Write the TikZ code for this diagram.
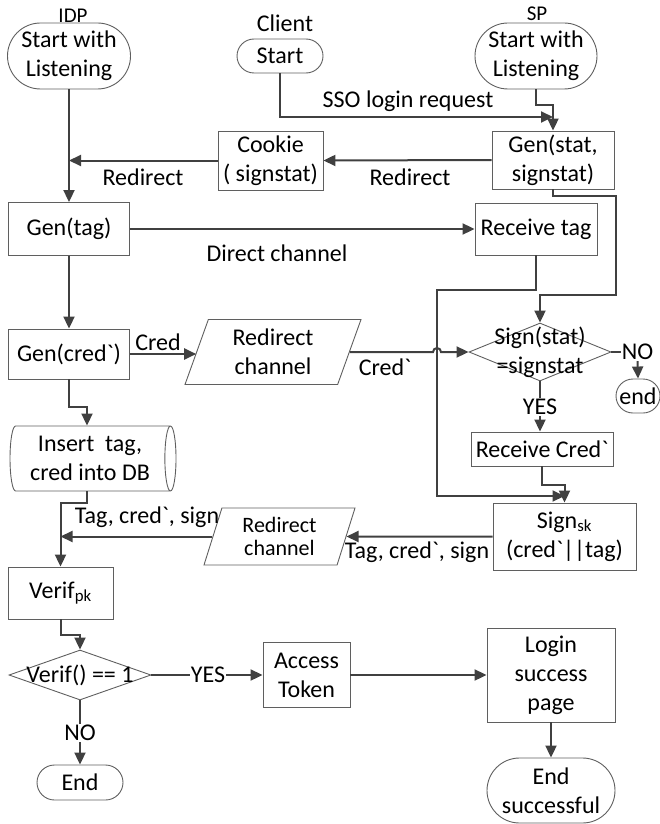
\documentclass[tikz,border=0pt]{standalone}
\usepackage{fontspec}
\setmainfont{Carlito}[Ligatures=TeXOff]
\usetikzlibrary{calc,arrows.meta,shapes.geometric,shapes.misc}
\definecolor{linegray}{HTML}{404040}
\definecolor{boxgray}{HTML}{5F5F5F}
\tikzset{
  base/.style={draw=boxgray, line width=0.9pt, align=center, inner sep=0pt},
  terminal/.style={base, rounded rectangle},
  process/.style={base, rectangle},
  decision/.style={base, diamond},
  io/.style={base, trapezium, trapezium stretches body,
    trapezium left angle=#1, trapezium right angle=180-#1},
  store/.style={base, cylinder, aspect=0.25, shape border rotate=0},
  flow/.style={draw=linegray, line width=2pt, -{Triangle[length=12pt,width=11pt]}},
  link/.style={draw=linegray, line width=2pt},
  note/.style={inner sep=1pt},
  header/.style={anchor=base, font=\fontsize{21}{24}\selectfont},
}
\begin{document}
\begin{tikzpicture}[x=1pt, y=-1pt, font=\fontsize{24}{29}\selectfont]
  \useasboundingbox (0,0) rectangle (659,824);

  % start nodes
  \node[terminal, minimum width=123pt, minimum height=66pt] (idpstart) at (69,56) {Start with\\Listening};
  \node[header] (idphdr) at (73,23) {IDP};
  \node[terminal, minimum width=86pt, minimum height=34pt] (clientstart) at (280,56) {Start};
  \node[header, font=\fontsize{24}{29}\selectfont] (clienthdr) at (285,32) {Client};
  \node[terminal, minimum width=122pt, minimum height=66pt] (spstart) at (536,56) {Start with\\Listening};
  \node[header] (sphdr) at (537,21) {SP};

  % state and tag
  \node[process, minimum width=105pt, minimum height=59pt] (cookie) at (270.5,160.5) {Cookie\\( signstat)};
  \node[process, minimum width=122pt, minimum height=58pt] (genstat) at (553,160) {Gen(stat,\\signstat)};
  \node[process, minimum width=121pt, minimum height=53pt] (gentag) at (69,229) {Gen(tag)};
  \node[process, minimum width=122pt, minimum height=52pt] (rectag) at (536,229) {Receive tag};

  % credential
  \node[process, minimum width=121pt, minimum height=50pt] (gencred) at (69,354) {Gen(cred`)};
  \node[io=63, minimum width=176pt, minimum height=65pt] (redir1) at (273,352) {Redirect\\channel};
  \node[decision, minimum width=142pt, minimum height=58pt,
        label={[align=center]center:Sign(stat)\\=signstat}] (chksig) at (540,352) {};
  \node[note] (no1) at (637.5,352) {NO};
  \node[terminal, minimum width=44pt, minimum height=34pt] (endno) at (638,396) {end};
  \node[note] (yes1) at (540,407) {YES};
  \node[process, minimum width=142pt, minimum height=34pt] (reccred) at (542,449) {Receive Cred`};
  \node[store, minimum width=65pt, minimum height=166pt] (db) at (90,458.5) {Insert~ tag,\\cred into DB};

  % signature
  \node[process, minimum width=143pt, minimum height=67pt] (signsk) at (564.5,536.5) {Sign\textsubscript{sk}\\(cred`||tag)};
  \node[io=65, minimum width=151pt, minimum height=57pt, font=\fontsize{22}{23}\selectfont] (redir2) at (279.5,536.5) {Redirect\\channel};
  \node[process, minimum width=105pt, minimum height=52pt] (verif) at (60.5,593) {Verif\textsubscript{pk}};
  \node[decision, minimum width=142pt, minimum height=50pt,
        label={center:{Verif() == 1}}] (chkver) at (80,675) {};
  \node[note] (yes2) at (208,675) {YES};
  \node[note] (no2) at (80,733) {NO};
  \node[process, minimum width=87pt, minimum height=65pt] (access) at (306.5,675) {Access\\Token};
  \node[process, minimum width=128pt, minimum height=94pt] (login) at (551,675) {Login\\success\\page};
  \node[terminal, minimum width=86pt, minimum height=35pt] (endidp) at (80,782.5) {End};
  \node[terminal, minimum width=128pt, minimum height=65pt] (endok) at (551,790.5) {End\\successful};

  % connector labels
  \node (lsso) at (408,101) {SSO login request};
  \node (lredir1) at (143,177) {Redirect};
  \node (lredir2) at (410,177) {Redirect};
  \node (ldirect) at (277,253) {Direct channel};
  \node (lcred) at (158,342) {Cred};
  \node (lcredp) at (385,367) {Cred`};
  \node (ltag1) at (147,517) {Tag, cred`, sign};
  \node (ltag2) at (417,552) {Tag, cred`, sign};

  % routing points
  \coordinate (jsso) at (553,117);
  \coordinate (jsp) at (553,105);
  \coordinate (r1) at (616,196);
  \coordinate (r2) at (616,295);
  \coordinate (l1) at (437,290);
  \coordinate (l2) at (437,496);
  \coordinate (j2) at (87,407);
  \coordinate (j4) at (60.5,503);

  % connectors
  \draw[flow] (clientstart.south) |- (jsso);
  \draw[flow] (spstart.south) |- (jsp) -- (genstat.north);
  \draw[flow] (genstat.west) -- (cookie.east);
  \draw[flow] (cookie.west) -- (cookie.west -| idpstart.south);
  \draw[flow] (idpstart.south) -- (gentag.north);
  \draw[flow] (gentag.east) -- (rectag.west);
  \draw[flow] (gentag.south) -- (gencred.north);
  \draw[flow] (genstat.south) |- (r1) -- (r2) -| (chksig.north);
  \draw[flow] (rectag.south) |- (l1) -- (l2) -- (l2 -| signsk.north);
  \draw[flow] (gencred.east) -- (gencred.east -| redir1.west);
  \draw[flow] (redir1.east) -- ($(l1 |- redir1.east)+(-4,0)$)
    arc[start angle=180, delta angle=180, radius=4] -- (chksig.west);
  \draw[link] (chksig.east) -- (no1.west);
  \draw[flow] (no1.south) -- (endno.north);
  \draw[link] (chksig.south) -- (yes1.north);
  \draw[flow] (yes1.south) -- (yes1.south |- reccred.north);
  \draw[flow] (reccred.south) |- ($(reccred.south)!.5!(signsk.north)$) -| (signsk.north);
  \draw[flow] (signsk.west) -- (redir2.east);
  \draw[flow] (redir2.west) -- (redir2.west -| verif.north);
  \draw[flow] (gencred.south) |- (j2) -- (j2 |- db.north);
  \draw[flow] (db.south -| j2) |- (j4) -- (verif.north);
  \draw[flow] (verif.south) |- ($(verif.south)!.5!(chkver.north)$) -| (chkver.north);
  \draw[link] (chkver.east) -- (yes2.west);
  \draw[flow] (yes2.east) -- (access.west);
  \draw[link] (chkver.south) -- (no2.north);
  \draw[flow] (no2.south) -- (endidp.north);
  \draw[flow] (access.east) -- (login.west);
  \draw[flow] (login.south) -- (endok.north);
\end{tikzpicture}
\end{document}
